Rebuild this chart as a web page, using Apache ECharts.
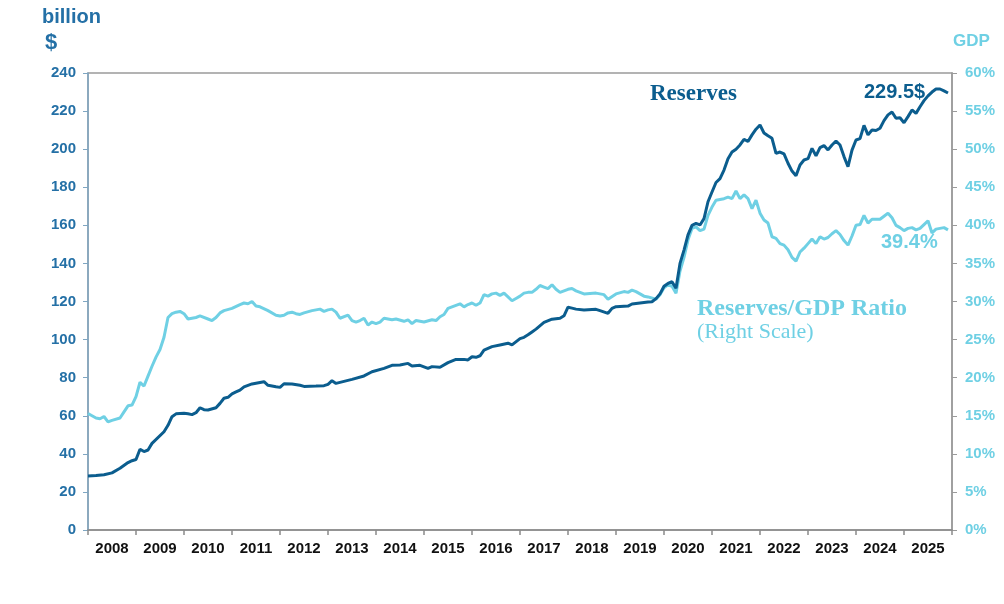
<!DOCTYPE html>
<html>
<head>
<meta charset="utf-8">
<script src="https://cdn.jsdelivr.net/npm/echarts@6/dist/echarts.min.js"></script>
<style>
html,body{margin:0;padding:0;background:#fff;}
#c{width:1004px;height:604px;}
</style>
</head>
<body>
<div id="c"></div>
<script>
// Reserves, billion $ (left scale)
const resDates = ['2008-01','2008-03','2008-05','2008-07','2008-09','2008-11','2008-12',
'2009-01','2009-02','2009-03','2009-04','2009-05','2009-08','2009-09','2009-10','2009-11',
'2010-01','2010-02','2010-03','2010-04','2010-05','2010-06','2010-07','2010-09','2010-10','2010-11','2010-12',
'2011-01','2011-02','2011-03','2011-04','2011-06','2011-08','2011-09','2011-10','2011-12',
'2012-01','2012-02','2012-04','2012-06','2012-07','2012-10','2012-12',
'2013-01','2013-02','2013-03','2013-07','2013-10','2013-12',
'2014-03','2014-05','2014-07','2014-09','2014-10','2014-12',
'2015-02','2015-03','2015-05','2015-07','2015-09','2015-11','2015-12',
'2016-01','2016-02','2016-03','2016-04','2016-06','2016-08','2016-10','2016-11',
'2017-01','2017-02','2017-03','2017-04','2017-05','2017-07','2017-09','2017-11','2017-12',
'2018-01','2018-02','2018-03','2018-05','2018-08','2018-09','2018-11','2018-12',
'2019-01','2019-04','2019-05','2019-07','2019-09','2019-10','2019-11','2019-12',
'2020-01','2020-02','2020-03','2020-04','2020-05','2020-06','2020-07','2020-08','2020-09','2020-10','2020-11','2020-12',
'2021-01','2021-02','2021-03','2021-04','2021-05','2021-06','2021-07','2021-08','2021-09','2021-10','2021-11','2021-12',
'2022-01','2022-02','2022-03','2022-04','2022-05','2022-06','2022-07','2022-08','2022-09','2022-10','2022-11','2022-12',
'2023-01','2023-02','2023-03','2023-04','2023-05','2023-06','2023-07','2023-08','2023-09','2023-10','2023-11','2023-12',
'2024-01','2024-02','2024-03','2024-04','2024-05','2024-06','2024-07','2024-08','2024-09','2024-10','2024-11','2024-12',
'2025-01','2025-02','2025-03','2025-04','2025-05','2025-06','2025-07','2025-08','2025-09','2025-10','2025-11','2025-12'];
const resValues = [28.4,28.6,29.0,30.0,32.4,35.4,36.4,
37.0,42.4,41.2,42.0,45.5,51.6,55.0,59.5,61.0,
61.3,61.0,60.6,61.6,64.2,63.2,63.0,64.2,66.5,69.2,69.7,
71.5,72.5,73.5,75.2,76.7,77.5,77.9,76.0,75.2,
74.9,76.8,76.7,76.0,75.4,75.6,75.8,
76.5,78.4,77.0,79.1,80.9,83.1,
84.9,86.5,86.7,87.5,86.1,86.5,
84.9,85.8,85.5,87.9,89.6,89.6,89.3,
91.0,90.7,91.5,94.5,96.3,97.2,98.1,97.2,
100.5,101.2,102.5,104.0,105.5,109.0,110.7,111.2,112.5,
117.0,116.5,116.0,115.5,115.9,115.2,113.8,116.4,
117.3,117.6,118.7,119.2,119.7,119.9,121.5,124.0,
128.0,129.5,130.4,127.0,140.0,147.0,155.0,160.0,161.0,160.2,163.5,172.4,
177.5,182.5,184.5,189.0,195.0,198.5,200.0,202.2,205.2,204.0,207.5,210.5,
212.7,208.5,207.0,205.7,197.8,198.5,197.5,192.6,188.5,186.0,191.7,194.3,
195.0,200.4,196.5,200.8,201.9,199.6,202.2,204.3,202.2,196.1,190.8,199.5,
204.8,205.5,212.5,207.5,210.1,209.8,211.0,215.0,218.0,219.5,216.2,216.5,
213.9,217.1,220.6,218.8,222.3,225.5,228.0,230.0,231.6,231.6,230.6,229.5];

// Reserves / GDP ratio, % (right scale)
const ratioDates = ['2008-01','2008-03','2008-04','2008-05','2008-06','2008-07','2008-09','2008-10','2008-11','2008-12',
'2009-01','2009-02','2009-03','2009-04','2009-05','2009-06','2009-07','2009-08','2009-09','2009-10','2009-11','2009-12',
'2010-01','2010-02','2010-03','2010-04','2010-05','2010-07','2010-08','2010-09','2010-10','2010-11',
'2011-01','2011-03','2011-04','2011-05','2011-06','2011-07','2011-08','2011-10','2011-12',
'2012-01','2012-02','2012-03','2012-04','2012-05','2012-06','2012-07','2012-09','2012-10','2012-11','2012-12',
'2013-01','2013-02','2013-03','2013-04','2013-06','2013-07','2013-08','2013-09','2013-10','2013-11','2013-12',
'2014-01','2014-02','2014-03','2014-05','2014-06','2014-08','2014-09','2014-10','2014-11',
'2015-01','2015-03','2015-04','2015-05','2015-06','2015-07','2015-09','2015-10','2015-11','2015-12',
'2016-01','2016-02','2016-03','2016-04','2016-05','2016-06','2016-07','2016-08','2016-09','2016-10','2016-11','2016-12',
'2017-01','2017-02','2017-03','2017-04','2017-05','2017-06','2017-07','2017-08','2017-09','2017-10','2017-11','2017-12',
'2018-01','2018-02','2018-03','2018-05','2018-08','2018-10','2018-11',
'2019-01','2019-03','2019-04','2019-05','2019-06','2019-07','2019-08','2019-09','2019-11','2019-12',
'2020-01','2020-02','2020-03','2020-04','2020-05','2020-06','2020-07','2020-08','2020-09','2020-10','2020-11','2020-12',
'2021-01','2021-02','2021-03','2021-04','2021-05','2021-06','2021-07','2021-08','2021-09','2021-10','2021-11','2021-12',
'2022-01','2022-02','2022-03','2022-04','2022-05','2022-06','2022-07','2022-08','2022-09','2022-10','2022-11','2022-12',
'2023-01','2023-02','2023-03','2023-04','2023-05','2023-06','2023-07','2023-08','2023-09','2023-10','2023-11','2023-12',
'2024-01','2024-02','2024-03','2024-04','2024-05','2024-06','2024-07','2024-08','2024-09','2024-10','2024-11','2024-12',
'2025-01','2025-02','2025-03','2025-04','2025-05','2025-06','2025-07','2025-08','2025-09','2025-10','2025-11','2025-12'];
const ratioValues = [15.3,14.7,14.6,14.9,14.2,14.4,14.7,15.5,16.3,16.4,
17.5,19.4,18.9,20.2,21.5,22.7,23.7,25.3,27.9,28.4,28.6,28.7,
28.4,27.7,27.8,27.9,28.1,27.7,27.5,27.9,28.5,28.8,
29.1,29.6,29.8,29.7,30.0,29.4,29.3,28.8,28.2,
28.1,28.2,28.5,28.6,28.4,28.3,28.5,28.8,28.9,29.0,28.7,
28.9,29.0,28.6,27.8,28.2,27.5,27.3,27.5,27.8,26.9,27.3,
27.1,27.3,27.8,27.6,27.7,27.4,27.6,27.1,27.5,
27.3,27.6,27.5,28.0,28.3,29.1,29.5,29.7,29.3,29.6,
29.8,29.5,29.8,30.9,30.7,31.0,31.1,30.8,31.1,30.6,30.1,30.4,
30.7,31.1,31.2,31.2,31.6,32.1,31.9,31.7,32.2,31.6,31.2,31.4,
31.6,31.7,31.4,31.0,31.1,30.9,30.3,
31.0,31.3,31.2,31.5,31.3,31.0,30.7,30.6,30.3,30.9,
31.8,32.2,32.0,31.1,34.0,35.8,38.1,39.6,39.8,39.3,39.5,41.3,
42.4,43.3,43.4,43.5,43.7,43.5,44.5,43.5,44.0,43.5,42.2,43.3,
41.6,40.7,40.3,38.5,38.3,37.6,37.4,36.8,35.8,35.3,36.5,37.0,
37.6,38.2,37.6,38.5,38.2,38.4,38.9,39.3,38.8,38.0,37.4,38.6,
40.0,40.1,41.3,40.3,40.8,40.8,40.8,41.2,41.6,41.0,40.0,39.7,
39.3,39.6,39.7,39.4,39.6,40.1,40.6,39.0,39.5,39.6,39.7,39.4];

const yearTicks = [2008,2009,2010,2011,2012,2013,2014,2015,2016,2017,2018,2019,2020,2021,2022,2023,2024,2025,2026];
const yearLabels = ['2008','2009','2010','2011','2012','2013','2014','2015','2016','2017','2018','2019','2020','2021','2022','2023','2024','2025'];

const DARK = '#0b5d8e';
const LIGHT = '#6fd0e4';
const LEFTLBL = '#2470a6';
const SANS = '"Liberation Sans", Arial, sans-serif';
const SERIF = '"Liberation Serif", "Times New Roman", serif';

function toPos(d){ const p = d.split('-'); return (+p[0]) + (+p[1]-1)/12; }
const resData = resDates.map((d,i)=>[toPos(d), resValues[i]]);
const ratioData = ratioDates.map((d,i)=>[toPos(d), ratioValues[i]]);

const chart = echarts.init(document.getElementById('c'), null, {renderer:'canvas'});
chart.setOption({
  animation:false,
  backgroundColor:'#fff',
  grid:{left:88,right:52,top:73,bottom:74,show:true,borderColor:'#9a9a9a',borderWidth:1.5},
  xAxis:{
    type:'value',min:2008,max:2026,
    axisLine:{show:true,lineStyle:{color:'#8a8a8a',width:1.5}},
    axisTick:{show:true,length:5,customValues:yearTicks,lineStyle:{color:'#8a8a8a',width:1.5}},
    axisLabel:{show:true,customValues:yearLabels.map(y=>+y+0.5),formatter:v=>String(Math.floor(v)),
      color:'#111',fontWeight:'bold',fontSize:15,fontFamily:SANS,margin:11},
    splitLine:{show:false}
  },
  yAxis:[{
    type:'value',min:0,max:240,interval:20,position:'left',
    axisLine:{show:true,lineStyle:{color:'#7fa6c2',width:1.5}},
    axisTick:{show:true,length:5,lineStyle:{color:'#7fa6c2'}},
    axisLabel:{color:LEFTLBL,fontWeight:'bold',fontSize:15,fontFamily:SANS,margin:12},
    splitLine:{show:false}
  },{
    type:'value',min:0,max:60,interval:5,position:'right',
    axisLine:{show:true,lineStyle:{color:'#9a9a9a',width:1.5}},
    axisTick:{show:true,length:5,lineStyle:{color:'#9a9a9a'}},
    axisLabel:{color:LIGHT,fontWeight:'bold',fontSize:15,fontFamily:SANS,margin:13,formatter:'{value}%'},
    splitLine:{show:false}
  }],
  series:[{
    name:'Reserves/GDP Ratio',type:'line',yAxisIndex:1,data:ratioData,
    showSymbol:false,lineStyle:{color:LIGHT,width:3},itemStyle:{color:LIGHT},z:2
  },{
    name:'Reserves',type:'line',yAxisIndex:0,data:resData,
    showSymbol:false,lineStyle:{color:DARK,width:3},itemStyle:{color:DARK},z:3
  }],
  graphic:[
    {type:'text',left:42,top:7,style:{text:'billion',fill:LEFTLBL,font:'bold 20px '+SANS}},
    {type:'text',left:45,top:32,style:{text:'$',fill:LEFTLBL,font:'bold 22px '+SANS}},
    {type:'text',left:953,top:33,style:{text:'GDP',fill:LIGHT,font:'bold 17px '+SANS}},
    {type:'text',left:650,top:83,style:{text:'Reserves',fill:DARK,font:'bold 23px '+SERIF}},
    {type:'text',left:864,top:82,style:{text:'229.5$',fill:DARK,font:'bold 20px '+SANS}},
    {type:'text',left:881,top:232,style:{text:'39.4%',fill:LIGHT,font:'bold 20px '+SANS}},
    {type:'text',left:697,top:297,style:{text:'Reserves/GDP Ratio',fill:LIGHT,font:'bold 24px '+SERIF}},
    {type:'text',left:697,top:321,style:{text:'(Right Scale)',fill:LIGHT,font:'22px '+SERIF}}
  ]
});
</script>
</body>
</html>
